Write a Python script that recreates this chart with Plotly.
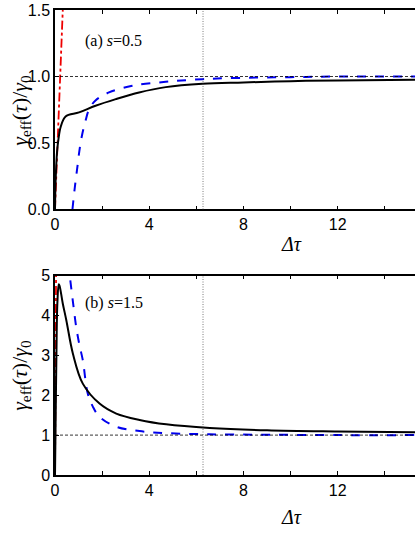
import plotly.graph_objects as go
from plotly.subplots import make_subplots

# panel (a), s = 0.5
a_black_x = [0, 0.02, 0.05, 0.09, 0.14, 0.24, 0.45, 1.02, 1.72, 2.58, 3.57, 4.70, 6.26, 8.0, 10.0, 12.0, 15.3]
a_black_y = [0, 0.18, 0.32, 0.44, 0.52, 0.62, 0.70, 0.73, 0.78, 0.83, 0.88, 0.92, 0.945, 0.955, 0.965, 0.97, 0.975]
a_blue_x = [0.74, 0.85, 0.95, 1.05, 1.16, 1.30, 1.44, 1.72, 2.29, 3.28, 4.70, 6.26, 8.0, 10.0, 12.0, 15.3]
a_blue_y = [0.0, 0.18, 0.32, 0.46, 0.57, 0.67, 0.75, 0.82, 0.88, 0.93, 0.96, 0.98, 0.99, 0.995, 1.0, 1.0]
a_red_x = [0, 0.15, 0.23, 0.33]
a_red_y = [0, 0.67, 1.0, 1.5]

# panel (b), s = 1.5
b_black_x = [0, 0.02, 0.06, 0.10, 0.16, 0.19, 0.33, 0.48, 0.76, 1.18, 1.89, 2.60, 3.59, 4.72, 6.57, 9.0, 12.0, 15.3]
b_black_y = [0, 1.0, 3.0, 4.3, 4.78, 4.75, 4.30, 3.88, 3.04, 2.29, 1.79, 1.54, 1.38, 1.27, 1.18, 1.12, 1.09, 1.07]
b_blue_x = [0.65, 0.78, 0.90, 1.04, 1.18, 1.39, 1.60, 1.89, 2.60, 3.59, 4.72, 6.57, 9.0, 12.0, 15.3]
b_blue_y = [4.88, 4.25, 3.71, 3.25, 2.88, 2.04, 1.72, 1.46, 1.21, 1.10, 1.05, 1.02, 1.01, 1.0, 1.0]
b_red_x = [0, 0.02, 0.045]
b_red_y = [0, 2.5, 5.0]

x_major = [0, 4, 8, 12]
x_minor = [2, 6, 10, 14]
a_yticks = [0.0, 0.5, 1.0, 1.5]
b_yticks = [0, 1, 2, 3, 4, 5]
ref_level = 1.0
t_mark = 6.2832

fig = make_subplots(rows=2, cols=1, vertical_spacing=0.142)

for row, (kx, ky, bx, by, rx, ry) in enumerate([
    (a_black_x, a_black_y, a_blue_x, a_blue_y, a_red_x, a_red_y),
    (b_black_x, b_black_y, b_blue_x, b_blue_y, b_red_x, b_red_y),
], start=1):
    fig.add_trace(go.Scatter(x=rx, y=ry, mode="lines",
                             line=dict(color="#ee0000", width=1.8, dash="dashdot")), row=row, col=1)
    fig.add_trace(go.Scatter(x=bx, y=by, mode="lines", line_shape="spline",
                             line=dict(color="#0000ee", width=2, dash="dash")), row=row, col=1)
    fig.add_trace(go.Scatter(x=kx, y=ky, mode="lines", line_shape="spline",
                             line=dict(color="black", width=2)), row=row, col=1)
    fig.add_hline(y=ref_level, line=dict(color="black", width=0.8, dash="3px,2px"), row=row, col=1)
    fig.add_vline(x=t_mark, line=dict(color="#444444", width=0.7, dash="1px,1.5px"), row=row, col=1)

axis_style = dict(showline=True, linecolor="black", linewidth=1.5, showgrid=False, zeroline=False,
                  ticks="inside", ticklen=4, tickcolor="black", automargin=False,
                  tickfont=dict(family="Liberation Sans, Arial", size=16, color="black"))

fig.update_xaxes(range=[0, 15.28], tickvals=x_major, mirror="ticks",
                 minor=dict(tickvals=x_minor, ticks="inside", ticklen=4, tickcolor="black"), **axis_style)
fig.update_yaxes(mirror=False, **axis_style)
fig.update_yaxes(range=[0, 1.5], tickvals=a_yticks, tickformat=".1f", row=1, col=1)
fig.update_yaxes(range=[0, 5], tickvals=b_yticks, row=2, col=1)

ylab = "<i>γ</i><sub>eff</sub>(<i>τ</i>)/<i>γ</i><sub>0</sub>"
serif = dict(family="Liberation Serif, Times New Roman", size=22, color="black")
xlab_font = dict(family="Liberation Serif, Times New Roman", size=20, color="black")
label_font = dict(family="Liberation Serif, Times New Roman", size=16, color="black")
annotations = [
    dict(text=ylab, x=-0.095, y=0.785, xref="paper", yref="paper", textangle=-90,
         xanchor="center", yanchor="middle", showarrow=False, font=serif),
    dict(text=ylab, x=-0.095, y=0.215, xref="paper", yref="paper", textangle=-90,
         xanchor="center", yanchor="middle", showarrow=False, font=serif),
    dict(text="<i>Δτ</i>", x=0.656, y=(475 - 244) / 465, xref="paper", yref="paper",
         yanchor="middle", showarrow=False, font=xlab_font),
    dict(text="<i>Δτ</i>", x=0.656, y=(475 - 517) / 465, xref="paper", yref="paper",
         yanchor="middle", showarrow=False, font=xlab_font),
    dict(text="(a) <i>s</i>=0.5", x=1.17, y=1.27, xref="x", yref="y", xanchor="left",
         showarrow=False, font=label_font),
    dict(text="(b) <i>s</i>=1.5", x=1.17, y=4.3, xref="x2", yref="y2", xanchor="left",
         showarrow=False, font=label_font),
]

fig.update_layout(
    width=415, height=537,
    margin=dict(l=55, r=0, t=10, b=62),
    plot_bgcolor="white", paper_bgcolor="white",
    showlegend=False,
    annotations=annotations,
)

fig.write_html("out.html", config={"displayModeBar": False},
               post_script="document.body.style.margin='0';")
